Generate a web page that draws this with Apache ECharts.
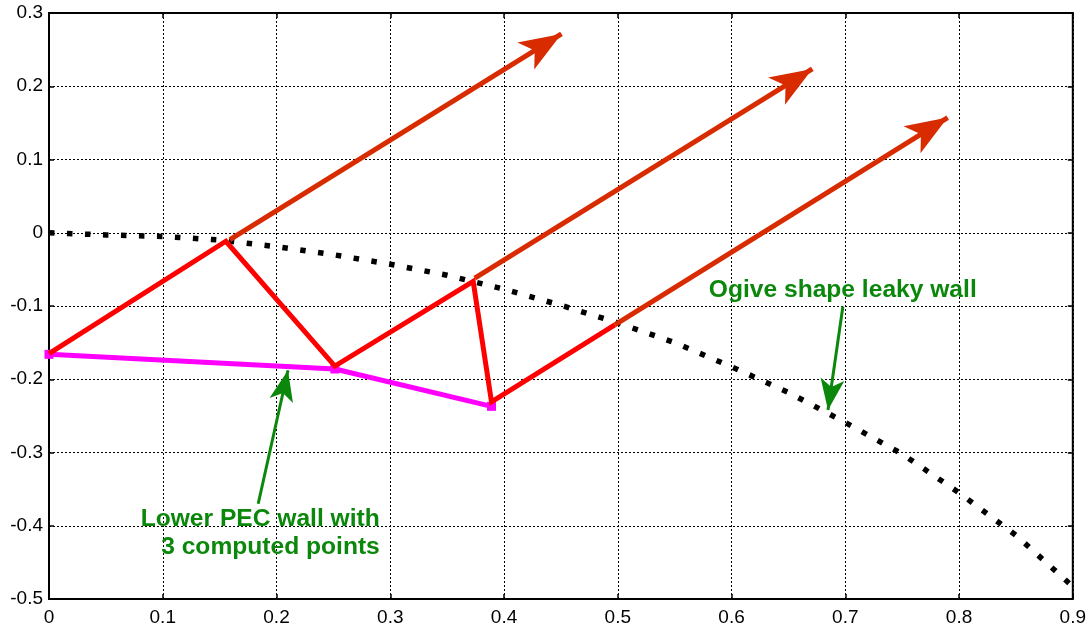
<!DOCTYPE html>
<html><head><meta charset="utf-8">
<script src="https://cdn.jsdelivr.net/npm/echarts@6/dist/echarts.min.js"></script>
<style>html,body{margin:0;padding:0;background:#fff}#c{width:1089px;height:627px}</style>
</head><body><div id="c"></div>
<script>
// ---- data ----
const xMin = 0, xMax = 0.9, xStep = 0.1;
const yMin = -0.5, yMax = 0.3, yStep = 0.1;

const ogiveX = [0, 0.05, 0.1, 0.15, 0.2, 0.25, 0.3, 0.35, 0.4, 0.45, 0.5, 0.55, 0.6, 0.65, 0.7, 0.75, 0.8, 0.85, 0.9];
const ogiveY = [0, -0.003, -0.005, -0.010, -0.019, -0.030, -0.043, -0.058, -0.077, -0.099, -0.123, -0.150, -0.183, -0.218, -0.259, -0.302, -0.355, -0.413, -0.483];

const rayX = [0, 0.1555, 0.2513, 0.3729, 0.389, 0.4974];
const rayY = [-0.165, -0.0116, -0.182, -0.0664, -0.231, -0.1258];

const pecX = [0, 0.2513, 0.389];
const pecY = [-0.166, -0.186, -0.237];

const outStartX = [0.159, 0.3743, 0.4974];
const outStartY = [-0.0093, -0.062, -0.1258];
const outEndX = [0.4505, 0.671, 0.790];
const outEndY = [0.2715, 0.2236, 0.1573];

const noteStartX = [0.1839, 0.6979];
const noteStartY = [-0.370, -0.1007];
const noteEndX = [0.2101, 0.6848];
const noteEndY = [-0.1877, -0.242];

const noteTexts = ['Ogive shape leaky wall', 'Lower PEC wall with\n3 computed points'];
const noteX = [0.580, 0.2908];
const noteY = [-0.0788, -0.4103];
const noteAlign = ['left', 'right'];

// ---- build ----
const zip = (a, b) => a.map((v, i) => [v, b[i]]);
const FONT = 'Liberation Sans, Arial, Helvetica, sans-serif';
const GREEN = '#0b880b';
const ORANGE = '#d92b00';

const gridLine = { show: true, lineStyle: { color: '#000', width: 1, type: [2, 2] } };
function mkX(pos, labels) {
  return {
    type: 'value', position: pos, min: xMin, max: xMax, interval: xStep,
    axisLine: { show: false, onZero: false },
    axisTick: { show: true, inside: true, length: 5, lineStyle: { color: '#000', width: 1.5 } },
    axisLabel: { show: labels, color: '#000', fontFamily: FONT, fontSize: 19, margin: 9 },
    splitLine: labels ? gridLine : { show: false }
  };
}
function mkY(pos, labels) {
  return {
    type: 'value', position: pos, min: yMin, max: yMax, interval: yStep,
    axisLine: { show: false, onZero: false },
    axisTick: { show: true, inside: true, length: 5, lineStyle: { color: '#000', width: 1.5 } },
    axisLabel: { show: labels, color: '#000', fontFamily: FONT, fontSize: 19, margin: 6 },
    splitLine: labels ? gridLine : { show: false }
  };
}

const chart = echarts.init(document.getElementById('c'), null, { renderer: 'canvas' });
chart.setOption({
  animation: false,
  backgroundColor: '#fff',
  grid: { left: 49, right: 16, top: 13, bottom: 28, show: true, borderColor: '#000', borderWidth: 2, backgroundColor: 'transparent' },
  xAxis: [mkX('bottom', true), mkX('top', false)],
  yAxis: [mkY('left', true), mkY('right', false)],
  series: [
    {
      type: 'line', data: zip(ogiveX, ogiveY), showSymbol: false, symbol: 'none',
      lineStyle: { color: '#000', width: 5.5, type: [5.5, 12.5], cap: 'butt' }, z: 2
    },
    {
      type: 'line', data: zip(pecX, pecY), symbol: 'rect', symbolSize: 9, showSymbol: true,
      itemStyle: { color: '#ff00ff' }, lineStyle: { color: '#ff00ff', width: 5 }, z: 3
    },
    {
      type: 'line', data: zip(rayX, rayY), showSymbol: false, symbol: 'none',
      lineStyle: { color: '#ff0000', width: 5, join: 'miter' }, z: 4
    },
    {
      type: 'lines', coordinateSystem: 'cartesian2d', z: 5,
      symbol: ['none', 'arrow'], symbolSize: [1, [24, 42]],
      lineStyle: { color: ORANGE, width: 5, opacity: 1, curveness: 0 },
      data: outStartX.map((x, i) => ({ coords: [[x, outStartY[i]], [outEndX[i], outEndY[i]]] }))
    },
    {
      type: 'lines', coordinateSystem: 'cartesian2d', z: 6,
      symbol: ['none', 'arrow'], symbolSize: [1, [18, 31]],
      lineStyle: { color: GREEN, width: 3, opacity: 1, curveness: 0 },
      data: noteStartX.map((x, i) => ({ coords: [[x, noteStartY[i]], [noteEndX[i], noteEndY[i]]] }))
    },
    {
      type: 'scatter', z: 7, symbolSize: 0, silent: true,
      itemStyle: { opacity: 1 },
      data: noteX.map((x, i) => ({
        value: [x, noteY[i]],
        label: {
          show: true, formatter: noteTexts[i], position: [0, 0], align: noteAlign[i], verticalAlign: 'middle',
          color: GREEN, fontFamily: FONT, fontWeight: 'bold', fontSize: 24.6, lineHeight: 28, opacity: 1
        }
      }))
    }
  ]
});
</script></body></html>
